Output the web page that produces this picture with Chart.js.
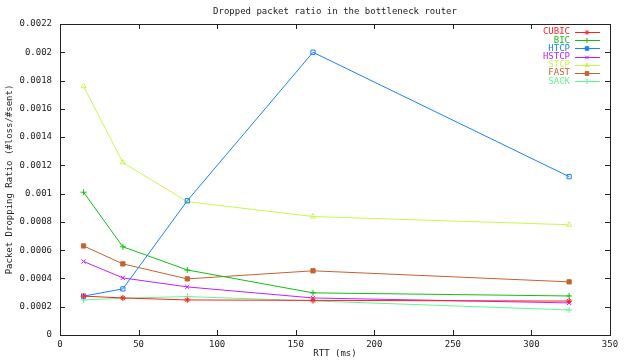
<!DOCTYPE html>
<html><head><meta charset="utf-8">
<script src="https://cdn.jsdelivr.net/npm/chart.js@4/dist/chart.umd.min.js"></script>
<style>html,body{margin:0;padding:0;background:#fff}#wrap{width:625px;height:360px;position:relative}</style>
</head><body><div id="wrap"><canvas id="c" width="625" height="360"></canvas></div>
<script>
const rtt = [15, 40, 81, 161, 324];
const cubic = [0.000275, 0.000262, 0.000248, 0.000245, 0.00024];
const bic = [0.00101, 0.000624, 0.00046, 0.000298, 0.000276];
const htcp = [0.000275, 0.000326, 0.00095, 0.002, 0.00112];
const hstcp = [0.00052, 0.000404, 0.00034, 0.000262, 0.000227];
const stcp = [0.00176, 0.00122, 0.000943, 0.000838, 0.00078];
const fast = [0.00063, 0.000503, 0.000397, 0.000454, 0.000376];
const sack = [0.000248, 0.00026, 0.000272, 0.000241, 0.000177];
const seriesNames = ['CUBIC','BIC','HTCP','HSTCP','STCP','FAST','SACK'];
const xTickLabels = ['0','50','100','150','200','250','300','350'];
const yTickLabels = ['0','0.0002','0.0004','0.0006','0.0008','0.001','0.0012','0.0014','0.0016','0.0018','0.002','0.0022'];
const titleText = 'Dropped packet ratio in the bottleneck router';
const xTitle = 'RTT (ms)';
const yTitle = 'Packet Dropping Ratio (#loss/#sent)';

const colors = ['#ff2020','#10c010','#1880ff','#c020ff','#c8f850','#c86030','#60f890'];
const styles = ['star','cross','rect','crossRot','triangle','rect','cross'];
const allData = [cubic,bic,htcp,hstcp,stcp,fast,sack];
const FONT = '9px "DejaVu Sans Mono", monospace';

const datasets = allData.map((d,i)=>({
  label: seriesNames[i],
  data: d.map((v,j)=>({x:rtt[j], y:v})),
  borderColor: colors[i],
  backgroundColor: i===5 ? colors[i] : 'rgba(0,0,0,0)',
  pointBorderColor: colors[i],
  pointStyle: styles[i],
  pointRadius: 3,
  pointBorderWidth: 1,
  borderWidth: 1,
  tension: 0
}));

const frame = {
  id:'frame',
  afterDraw(chart){
    const {ctx, chartArea:a, scales:{x,y}} = chart;
    ctx.save();
    ctx.strokeStyle = '#222';
    ctx.lineWidth = 1;
    ctx.strokeRect(Math.round(a.left)+0.5, Math.round(a.top)+0.5, Math.round(a.right-a.left), Math.round(a.bottom-a.top));
    ctx.beginPath();
    const L=5;
    for(let i=0;i<xTickLabels.length;i++){
      const px = Math.round(x.getPixelForValue(i*50))+0.5;
      ctx.moveTo(px,a.bottom); ctx.lineTo(px,a.bottom-L);
      ctx.moveTo(px,a.top); ctx.lineTo(px,a.top+L);
    }
    for(let i=0;i<yTickLabels.length;i++){
      const py = Math.round(y.getPixelForValue(i*0.0002))+0.5;
      ctx.moveTo(a.left,py); ctx.lineTo(a.left+L,py);
      ctx.moveTo(a.right,py); ctx.lineTo(a.right-L,py);
    }
    ctx.stroke();
    ctx.fillStyle = '#222';
    ctx.font = FONT;
    ctx.textAlign='center'; ctx.textBaseline='middle';
    ctx.fillText(titleText, (a.left+a.right)/2, 12);
    ctx.fillText(xTitle, (a.left+a.right)/2, 354);
    ctx.save();
    ctx.translate(10,(a.top+a.bottom)/2);
    ctx.rotate(-Math.PI/2);
    ctx.fillText(yTitle,0,0);
    ctx.restore();
    ctx.textAlign='right';
    for(let i=0;i<seriesNames.length;i++){
      const ly = 32 + i*8.2;
      ctx.fillStyle = colors[i];
      ctx.fillText(seriesNames[i], 570, ly);
      ctx.strokeStyle = colors[i];
      ctx.beginPath();
      ctx.moveTo(575, Math.round(ly)+0.5); ctx.lineTo(600, Math.round(ly)+0.5);
      ctx.stroke();
      const ds = chart.data.datasets[i];
      Chart.helpers.drawPoint(ctx, {pointStyle: ds.pointStyle, radius: 2.5, borderWidth:1, rotation:0}, 587, Math.round(ly)+0.5);
      ctx.fillStyle = colors[i];
      if(i===5){ ctx.fillRect(585,Math.round(ly)-1.5,4,4); }
    }
    ctx.restore();
  }
};

new Chart(document.getElementById('c'), {
  type:'line',
  data:{datasets},
  options:{
    responsive:false,
    animation:false,
    layout:{padding:{left:0,right:15,top:24,bottom:0}},
    plugins:{legend:{display:false},title:{display:false},tooltip:{enabled:false}},
    scales:{
      x:{type:'linear',min:0,max:350,
        ticks:{stepSize:50,color:'#222',font:{family:'"DejaVu Sans Mono", monospace',size:9},padding:4,maxRotation:0,
          callback:(v)=>{const i=Math.round(v/50);return xTickLabels[i];}},
        grid:{display:false,drawTicks:false,tickLength:0},border:{display:false},
        afterFit(s){s.height=25;}},
      y:{type:'linear',min:0,max:0.0022,
        ticks:{stepSize:0.0002,color:'#222',font:{family:'"DejaVu Sans Mono", monospace',size:9},padding:8,
          callback:(v)=>{const i=Math.round(v/0.0002);return yTickLabels[i];}},
        grid:{display:false,drawTicks:false,tickLength:0},border:{display:false},
        afterFit(s){s.width=60;}}
    }
  },
  plugins:[frame]
});
</script></body></html>
